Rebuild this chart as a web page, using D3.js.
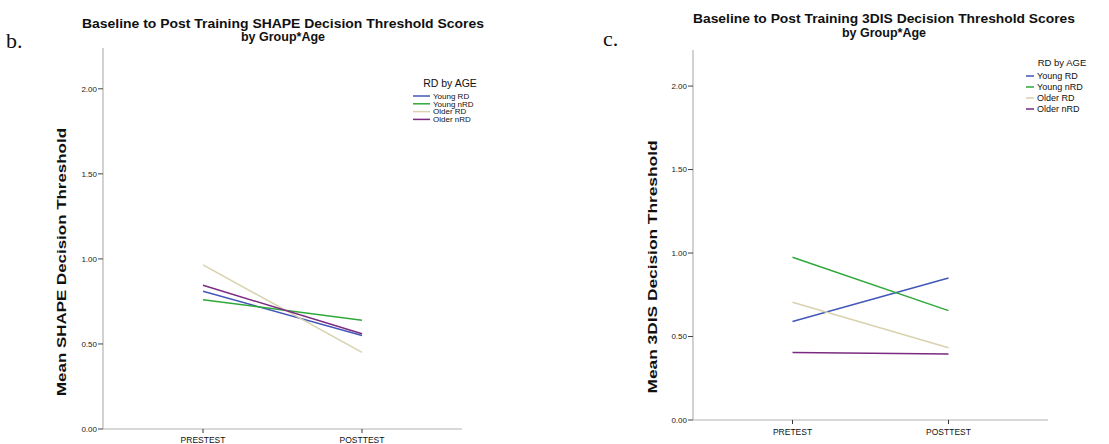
<!DOCTYPE html>
<html><head><meta charset="utf-8">
<script src="https://cdn.jsdelivr.net/npm/d3@7"></script>
<style>body{margin:0;background:#fff;}svg{display:block;}</style>
</head><body>
<svg id="c" width="1109" height="444"></svg>
<script>
// ---- data ----
const groups = ["Young RD", "Young nRD", "Older RD", "Older nRD"];
const colors = ["#4257b8", "#2fa83a", "#d8d2ae", "#7a2a80"];
const shapePhases = ["PRESTEST", "POSTTEST"];
const disPhases = ["PRETEST", "POSTTEST"];
const shapePre = [0.81, 0.76, 0.965, 0.845];
const shapePost = [0.55, 0.64, 0.45, 0.56];
const disPre = [0.59, 0.975, 0.705, 0.405];
const disPost = [0.85, 0.655, 0.433, 0.395];
const yTicks = [0, 0.5, 1.0, 1.5, 2.0];

const svg = d3.select("#c");
const font = "'Liberation Sans', Arial, sans-serif";

function panel(o) {
  const g = svg.append("g");
  const y = d3.scaleLinear().domain([0, o.yMax]).range([o.y0, o.y1]);
  const x = d3.scalePoint().domain(o.phases).range([o.x0, o.x1]).padding(o.pad);
  // axes lines
  g.append("line").attr("x1", o.x0).attr("x2", o.x0).attr("y1", o.y1).attr("y2", o.y0)
    .attr("stroke", "#b4b4b4").attr("stroke-width", 1.2);
  g.append("line").attr("x1", o.x0).attr("x2", o.x1).attr("y1", o.y0).attr("y2", o.y0)
    .attr("stroke", "#b4b4b4").attr("stroke-width", 1.2);
  // y ticks
  const yt = g.selectAll(".yt").data(yTicks).enter().append("g")
    .attr("transform", d => `translate(${o.x0},${y(d)})`);
  yt.append("line").attr("x1", -5).attr("x2", 0).attr("stroke", "#444").attr("stroke-width", 1);
  yt.append("text").attr("x", -6).attr("dy", "0.35em").attr("text-anchor", "end")
    .attr("font-family", font).attr("font-size", o.tickFs).attr("fill", "#222")
    .text(d => d3.format(".2f")(d));
  // x ticks
  const xt = g.selectAll(".xt").data(o.phases).enter().append("g")
    .attr("transform", d => `translate(${x(d)},${o.y0})`);
  xt.append("line").attr("y1", 0).attr("y2", 4).attr("stroke", "#333");
  xt.append("text").attr("y", o.xLabDy).attr("text-anchor", "middle")
    .attr("font-family", font).attr("font-size", o.xFs).attr("fill", "#111")
    .text(d => d);
  // lines
  const line = d3.line().x(d => x(d[0])).y(d => y(d[1]));
  groups.forEach((gname, i) => {
    g.append("path")
      .datum([[o.phases[0], o.pre[i]], [o.phases[1], o.post[i]]])
      .attr("d", line).attr("fill", "none").attr("stroke", colors[i]).attr("stroke-width", 1.5);
  });
  // y label
  g.append("text").attr("transform", `translate(${o.ylx},${o.yly}) rotate(-90)`)
    .attr("text-anchor", "middle").attr("font-family", font).attr("font-weight", "bold")
    .attr("font-size", o.yLabFs).attr("fill", "#111")
    .attr("textLength", o.yLabLen).attr("lengthAdjust", "spacingAndGlyphs").text(o.yLabel);
  // title
  o.title.forEach((t, i) => {
    const tt = g.append("text").attr("x", o.tx).attr("y", o.ty[i]).attr("text-anchor", "middle")
      .attr("font-family", font).attr("font-weight", "bold").attr("font-size", 12.5).attr("fill", "#111")
      .text(t);
    if (i === 0) tt.attr("textLength", o.tLen).attr("lengthAdjust", "spacingAndGlyphs");
  });
  // panel letter
  g.append("text").attr("x", o.lx).attr("y", o.ly).attr("font-family", "'Liberation Serif', 'Times New Roman', serif")
    .attr("font-size", 22).attr("fill", "#111").text(o.letter);
  // legend
  g.append("text").attr("x", o.legTx).attr("y", o.legTy).attr("text-anchor", "middle")
    .attr("font-family", font).attr("font-size", o.legTitleFs).attr("fill", "#111").text("RD by AGE");
  groups.forEach((gname, i) => {
    const yy = o.legY0 + i * o.legDy;
    g.append("line").attr("x1", o.legX).attr("x2", o.legX + o.legW).attr("y1", yy).attr("y2", yy)
      .attr("stroke", colors[i]).attr("stroke-width", 1.5);
    g.append("text").attr("x", o.legX + o.legW + 3).attr("y", yy).attr("dy", "0.35em")
      .attr("font-family", font).attr("font-size", o.legFs).attr("fill", "#111").text(gname);
  });
}

panel({
  phases: shapePhases, pre: shapePre, post: shapePost,
  x0: 103, x1: 462, pad: 0.629, y0: 429, y1: 48, yMax: 2.24,
  tickFs: 8, xFs: 8.5, xLabDy: 14,
  ylx: 66, yly: 262, yLabFs: 12, yLabLen: 268, yLabel: "Mean SHAPE Decision Threshold",
  title: ["Baseline to Post Training SHAPE Decision Threshold Scores", "by Group*Age"],
  tx: 283, ty: [28, 41], tLen: 402,
  letter: "b.", lx: 6, ly: 48,
  legTx: 450, legTy: 87, legTitleFs: 10.5, legX: 413, legW: 17, legY0: 96, legDy: 7.8, legFs: 8
});

panel({
  phases: disPhases, pre: disPre, post: disPost,
  x0: 693, x1: 1048, pad: 0.638, y0: 420, y1: 50, yMax: 2.216,
  tickFs: 8, xFs: 8.5, xLabDy: 15,
  ylx: 657, yly: 267, yLabFs: 12, yLabLen: 253, yLabel: "Mean 3DIS Decision Threshold",
  title: ["Baseline to Post Training 3DIS Decision Threshold Scores", "by Group*Age"],
  tx: 884, ty: [23, 37], tLen: 382,
  letter: "c.", lx: 603, ly: 46,
  legTx: 1062, legTy: 66, legTitleFs: 9.5, legX: 1026, legW: 8, legY0: 76, legDy: 11, legFs: 9
});
</script>
</body></html>
